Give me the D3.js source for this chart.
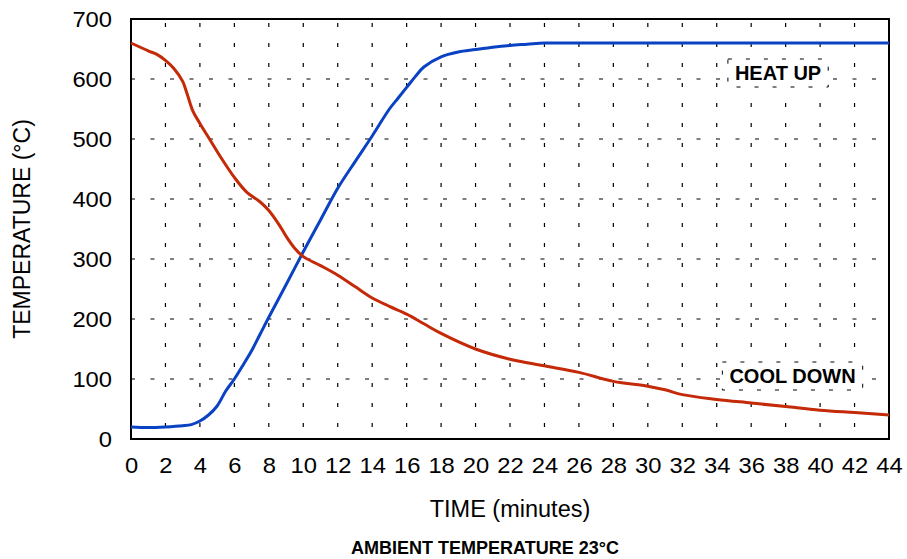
<!DOCTYPE html>
<html><head><meta charset="utf-8">
<script src="https://cdn.jsdelivr.net/npm/d3@7"></script>
<style>body{margin:0;background:#fff}svg{display:block}text{font-family:"Liberation Sans",Arial,sans-serif;fill:#000}</style>
</head><body><svg id="c" width="907" height="559"></svg>
<script>
const xTicks = d3.range(0, 46, 2);
const yTicks = [0,100,200,300,400,500,600,700];
const heatTime = [0,1,2,3,3.5,4,4.5,5,5.5,6,6.5,7,7.5,8,9,10,11,12,13,14,15,15.5,16,16.5,17,18,19,20,21,22,23,24,25,30,35,40,44];
const heatTemp = [20,19,20,22,24,30,40,55,80,100,123,147,175,203,257,312,365,418,462,505,550,568,586,604,620,637,645,649,653,656,658,660,660,660,660,660,660];
const coolTime = [0,1,1.5,2,2.5,3,3.25,3.6,4,4.6,5.2,6,6.7,7.5,8,8.6,9,9.5,10,11,12,13,14,15,16,17,18,20,22,24,26,28,30,31,32,34,36,38,40,42,44];
const coolTemp = [660,647,641,631,617,596,576,546,526,498,470,436,412,395,381,357,338,318,304,289,273,254,235,221,208,192,176,150,133,122,111,96,88,82,74,66,60,54,48,44,40];
const labels = [{text:"HEAT UP", x:37.56, y:610}, {text:"COOL DOWN", x:38.4, y:105}];

const svg = d3.select("#c");
const L=131, R=889, T=19, B=439;
const x = d3.scaleLinear().domain([0,44]).range([L,R]);
const y = d3.scaleLinear().domain([0,700]).range([B,T]);

// gridlines
svg.append("g").selectAll("line").data(xTicks.slice(1,-1)).join("line")
  .attr("x1",d=>x(d)).attr("x2",d=>x(d)).attr("y1",T).attr("y2",B)
  .attr("stroke","#000").attr("stroke-width",1.2).attr("stroke-dasharray","4,16").attr("stroke-dashoffset",16);
svg.append("g").selectAll("line").data(yTicks.slice(1,-1)).join("line")
  .attr("x1",L).attr("x2",R).attr("y1",d=>y(d)).attr("y2",d=>y(d))
  .attr("stroke","#000").attr("stroke-width",1.2).attr("stroke-dasharray","4,15.5");

// label boxes
labels.forEach(l=>{
  const t = svg.append("text").attr("x",x(l.x)).attr("y",y(l.y)).attr("text-anchor","middle")
    .attr("dominant-baseline","central").attr("font-weight","bold").attr("font-size",20).text(l.text);
  const bb = t.node().getBBox();
  svg.insert("rect", "text").attr("x",bb.x-7).attr("y",bb.y-3).attr("width",bb.width+14).attr("height",bb.height+6)
    .attr("fill","#fff").attr("stroke","#000").attr("stroke-width",1).attr("stroke-dasharray","4,14");
});

// frame
svg.append("rect").attr("x",L).attr("y",T).attr("width",R-L).attr("height",B-T)
  .attr("fill","none").attr("stroke","#000").attr("stroke-width",2);

// lines
const line = d3.line().x(d=>x(d[0])).y(d=>y(d[1])).curve(d3.curveCatmullRom.alpha(0.5));
svg.append("path").datum(heatTime.map((t,i)=>[t,heatTemp[i]])).attr("d",line)
  .attr("fill","none").attr("stroke","#0a42c4").attr("stroke-width",3);
svg.append("path").datum(coolTime.map((t,i)=>[t,coolTemp[i]])).attr("d",line)
  .attr("fill","none").attr("stroke","#c42a08").attr("stroke-width",3);

// axes
const sx = 1.08;
const xa = svg.append("g").attr("transform",`translate(0,${B})`)
  .call(d3.axisBottom(x).tickValues(xTicks).tickSize(0).tickPadding(18));
xa.select(".domain").remove();
xa.selectAll("text").attr("font-size",22).attr("font-family","Liberation Sans, Arial, sans-serif")
  .attr("transform",`scale(${sx},1)`);
const ya = svg.append("g").attr("transform",`translate(${L},0)`)
  .call(d3.axisLeft(y).tickValues(yTicks).tickSize(0).tickPadding(19));
ya.select(".domain").remove();
ya.selectAll(".tick text").attr("font-size",22).attr("font-family","Liberation Sans, Arial, sans-serif")
  .attr("x",-19/sx).attr("transform",`scale(${sx},1)`);

svg.append("text").attr("transform",`translate(30,${(T+B)/2}) rotate(-90)`).attr("text-anchor","middle")
  .attr("font-size",23).text("TEMPERATURE (°C)");
svg.append("text").attr("x",(L+R)/2).attr("y",517).attr("text-anchor","middle").attr("font-size",23.5).text("TIME (minutes)");
svg.append("text").attr("x",485).attr("y",554).attr("text-anchor","middle").attr("font-size",18).attr("font-weight","bold").text("AMBIENT TEMPERATURE 23°C");
</script></body></html>
